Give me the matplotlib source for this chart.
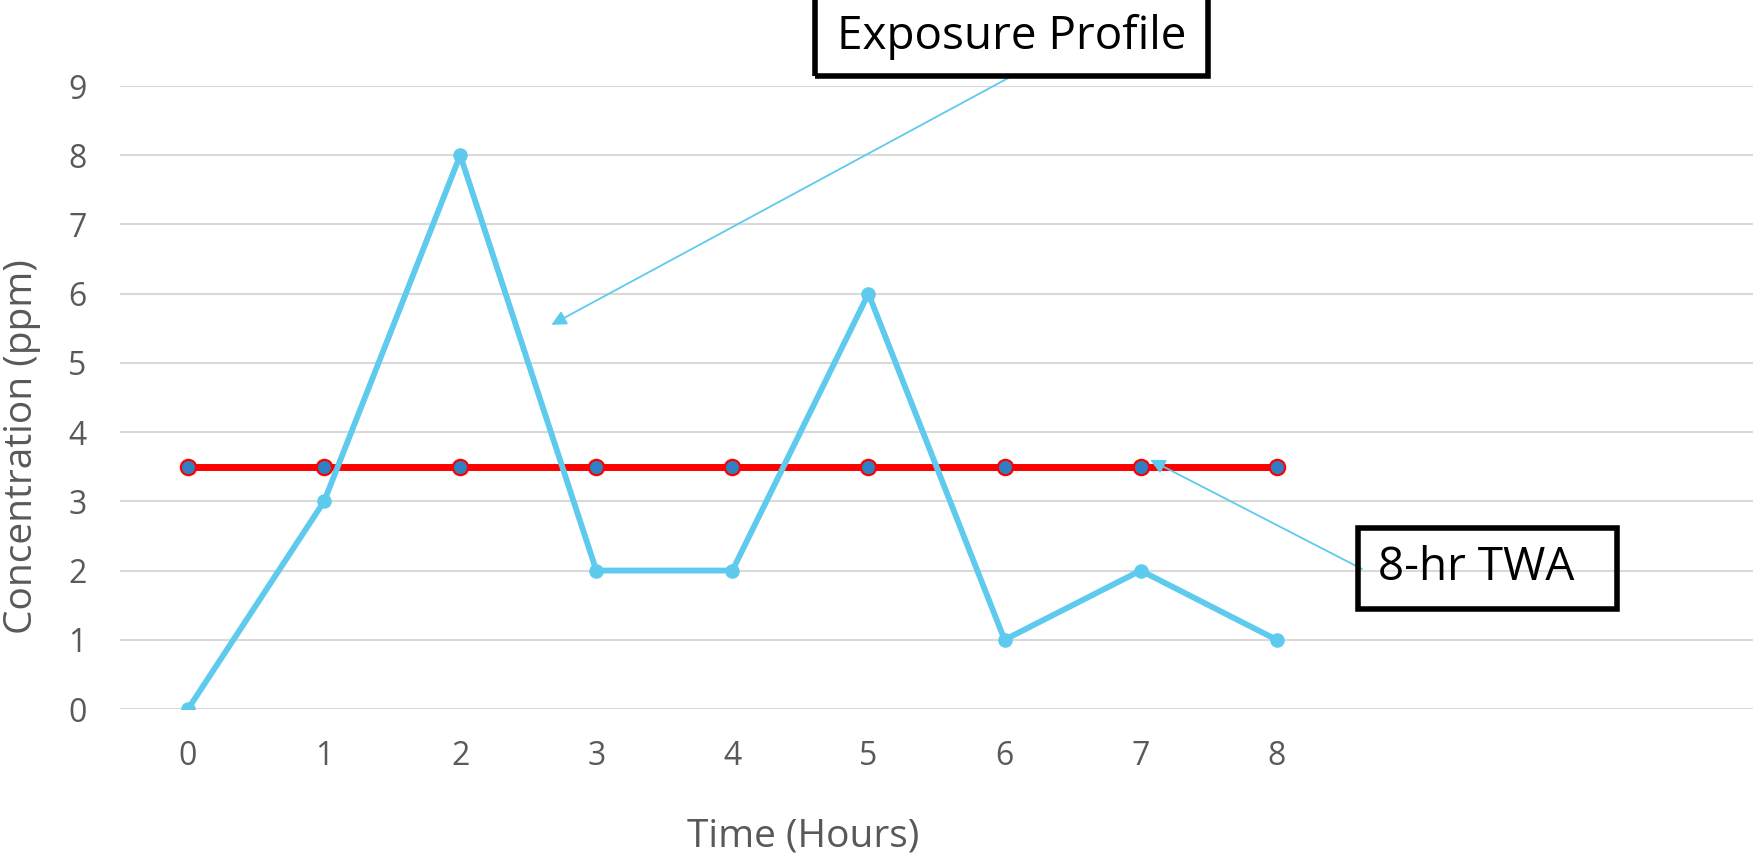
import matplotlib
matplotlib.use("Agg")
import matplotlib.pyplot as plt
from matplotlib.patches import Rectangle

#### chart data
hours = [0, 1, 2, 3, 4, 5, 6, 7, 8]
exposure = [0, 3, 8, 2, 2, 6, 1, 2, 1]
twa = [3.5, 3.5, 3.5, 3.5, 3.5, 3.5, 3.5, 3.5, 3.5]
y_ticks = [0, 1, 2, 3, 4, 5, 6, 7, 8, 9]

W, H = 1753, 865
plt.rcParams['font.family'] = ['Open Sans', 'DejaVu Sans']

fig = plt.figure(figsize=(W / 100, H / 100), dpi=100)
ax = fig.add_axes([120 / W, 1 - 709 / H, 1 - 120 / W, (709 - 86) / H])

light_blue = '#5DCAEE'
gray_text = '#595959'

# exposure profile and the 8-hr average
ax.plot(hours, twa, color='#FF0000', lw=5, marker='o', markersize=11,
        markerfacecolor='#2E7FC4', markeredgecolor='#FF0000', markeredgewidth=1.6, zorder=3)
ax.plot(hours, exposure, color=light_blue, lw=4.2, marker='o', markersize=10.5,
        markeredgewidth=0, zorder=4)

ax.set_xlim(-0.5, 11.5)
ax.set_ylim(0, 9)
ax.set_xticks(hours)
ax.set_yticks(y_ticks)
ax.tick_params(length=0, labelsize=23, colors=gray_text)
ax.tick_params(axis='y', pad=24)
ax.tick_params(axis='x', pad=22)
for s in ax.spines.values():
    s.set_visible(False)
ax.grid(axis='y', color='#D9D9D9', lw=1.5)
ax.set_axisbelow(True)

fig.text(803 / W, 1 - 836 / H, 'Time (Hours)', ha='center', va='center',
         fontsize=28, color=gray_text)
fig.text(22 / W, 1 - 447 / H, 'Concentration (ppm)', ha='center', va='center',
         rotation=90, fontsize=28, color=gray_text)

# callout boxes
fig.patches.append(Rectangle((815 / W, 1 - 76 / H), (1208 - 815) / W, 0.2,
                             transform=fig.transFigure, fill=False, ec='black', lw=4))
fig.text(1012 / W, 1 - 37 / H, 'Exposure Profile', ha='center', va='center',
         fontsize=33, color='black')
fig.patches.append(Rectangle((1358 / W, 1 - 609 / H), (1617 - 1358) / W, (609 - 528) / H,
                             transform=fig.transFigure, fill=False, ec='black', lw=4))
fig.text(1476 / W, 1 - 568 / H, '8-hr TWA', ha='center', va='center',
         fontsize=33, color='black')

arrow = dict(arrowstyle='-|>', color=light_blue, lw=1.3, mutation_scale=22,
             shrinkA=0, shrinkB=0)
ax.annotate('', xy=(2.67, 5.55), xycoords='data',
            xytext=(1012 / W, 1 - 76 / H), textcoords='figure fraction', arrowprops=arrow)
ax.annotate('', xy=(7.07, 3.6), xycoords='data',
            xytext=(1362 / W, 1 - 569 / H), textcoords='figure fraction', arrowprops=arrow)

fig.savefig('out.png', dpi=100)
